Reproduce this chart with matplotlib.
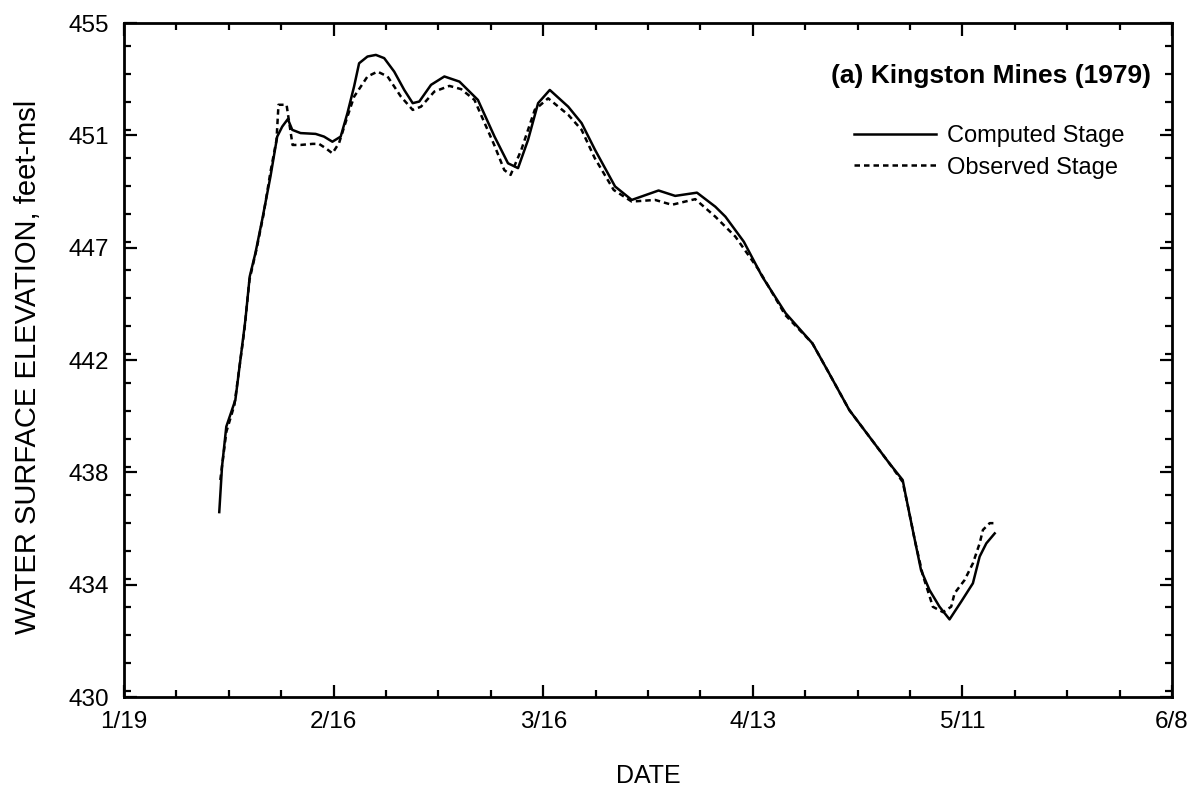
import matplotlib
matplotlib.use("Agg")
import matplotlib.pyplot as plt
from matplotlib.ticker import MultipleLocator, FixedLocator, FuncFormatter

plt.rcParams['font.family'] = ['Liberation Sans', 'DejaVu Sans']

# days after 1/19/1979
comp_day = [12.73, 13.10, 13.67, 14.88, 16.22, 16.80, 17.56, 18.46, 19.57, 20.47,
            21.14, 21.89, 22.48, 23.59, 25.60, 26.72, 27.84, 28.95, 29.85, 30.74,
            31.41, 32.53, 33.65, 34.76, 36.10, 37.44, 38.57, 39.45, 41.02, 42.80,
            44.81, 47.28, 49.50, 51.30, 52.64, 53.98, 55.32, 56.88, 59.34, 61.13,
            62.92, 65.60, 67.83, 71.41, 73.63, 76.54, 78.99, 80.34, 82.80, 85.25,
            88.38, 91.96, 94.19, 96.88, 99.56, 102.24, 104.02, 104.46, 105.36, 106.47,
            107.60, 108.94, 110.28, 111.84, 113.40, 114.30, 115.19, 116.31]
comp_stage = [436.86, 438.55, 440.03, 441.02, 443.99, 445.60, 446.47, 447.70, 449.31, 450.79,
              451.16, 451.44, 451.04, 450.92, 450.89, 450.79, 450.60, 450.79, 451.66, 452.65,
              453.51, 453.76, 453.82, 453.70, 453.20, 452.52, 452.03, 452.09, 452.71, 453.02,
              452.83, 452.15, 450.79, 449.80, 449.62, 450.67, 452.03, 452.52, 451.90, 451.29,
              450.30, 448.94, 448.44, 448.79, 448.59, 448.71, 448.19, 447.82, 446.89, 445.60,
              444.24, 443.12, 442.01, 440.65, 439.66, 438.67, 438.05, 437.43, 436.20, 434.71,
              433.97, 433.35, 432.88, 433.54, 434.22, 435.21, 435.70, 436.07]

obs_day = [12.87, 13.67, 14.75, 16.09, 16.76, 17.69, 18.63, 19.57, 20.38, 20.64,
           21.72, 22.52, 23.59, 25.20, 26.05, 26.94, 27.84, 28.73, 29.85, 30.74,
           32.53, 33.87, 35.21, 37.00, 38.57, 39.68, 41.46, 43.47, 45.04, 46.82,
           49.46, 50.80, 51.65, 53.08, 54.87, 56.66, 59.34, 61.13, 62.87, 65.42,
           67.83, 70.95, 73.19, 76.31, 78.99, 81.67, 84.81, 88.34, 91.96, 94.19,
           96.88, 99.56, 102.24, 104.02, 104.69, 105.63, 106.70, 107.77, 108.04, 109.40,
           110.50, 110.95, 112.29, 113.40, 114.30, 114.74, 115.64, 116.31]
obs_stage = [438.05, 439.83, 440.83, 443.62, 445.47, 446.59, 447.88, 449.48, 450.67, 451.97,
             451.97, 450.48, 450.48, 450.52, 450.52, 450.36, 450.17, 450.55, 451.53, 452.27,
             453.02, 453.20, 453.02, 452.27, 451.78, 451.90, 452.46, 452.67, 452.55, 452.15,
             450.48, 449.55, 449.37, 450.30, 451.78, 452.21, 451.60, 451.04, 450.00, 448.81,
             448.38, 448.44, 448.26, 448.47, 447.82, 447.08, 445.84, 444.17, 443.12, 442.01,
             440.65, 439.66, 438.67, 437.98, 437.12, 435.83, 434.53, 433.60, 433.35, 433.15,
             433.35, 433.85, 434.34, 434.96, 435.70, 436.20, 436.45, 436.45]

date_ticks = [0, 28, 56, 84, 112, 140]
date_labels = ['1/19', '2/16', '3/16', '4/13', '5/11', '6/8']

fig = plt.figure(figsize=(12, 7.91), dpi=100)
ax = fig.add_axes([0.1033, 0.1188, 0.8734, 0.852])

ax.plot(comp_day, comp_stage, color='black', lw=1.8, label='Computed Stage')
ax.plot(obs_day, obs_stage, color='black', lw=1.8, ls=(0, (2.2, 1.6)),
        label='Observed Stage')

ax.set_xlim(0, 140)
ax.set_ylim(430, 455)

ax.xaxis.set_major_locator(FixedLocator(date_ticks))
ax.set_xticklabels(date_labels)
ax.xaxis.set_minor_locator(MultipleLocator(7))
ax.yaxis.set_major_locator(FixedLocator([430 + i * 25 / 6 for i in range(7)]))
ax.yaxis.set_major_formatter(FuncFormatter(lambda v, p: f"{v:.0f}"))
ax.yaxis.set_minor_locator(MultipleLocator(25 / 24))

ax.tick_params(which='both', direction='in', top=True, right=True, width=1.6,
               labelsize=17.5)
ax.tick_params(which='major', length=9)
ax.tick_params(which='minor', length=5)
ax.tick_params(axis='y', pad=11)
ax.tick_params(axis='x', pad=10)
for s in ax.spines.values():
    s.set_linewidth(2)

ax.set_xlabel('DATE', fontsize=18)
ax.set_ylabel('WATER SURFACE ELEVATION, feet-msl', fontsize=21)
ax.xaxis.set_label_coords(0.5, -0.099)
ax.yaxis.set_label_coords(-0.078, 0.49)

ax.text(0.98, 0.922, '(a) Kingston Mines (1979)', transform=ax.transAxes,
        ha='right', va='center', fontsize=19, fontweight='bold')

ax.legend(loc='upper right', bbox_to_anchor=(0.975, 0.88), frameon=False,
          fontsize=17, handlelength=3.5, handletextpad=0.45, labelspacing=0.4)

fig.savefig('out.png', dpi=100)
